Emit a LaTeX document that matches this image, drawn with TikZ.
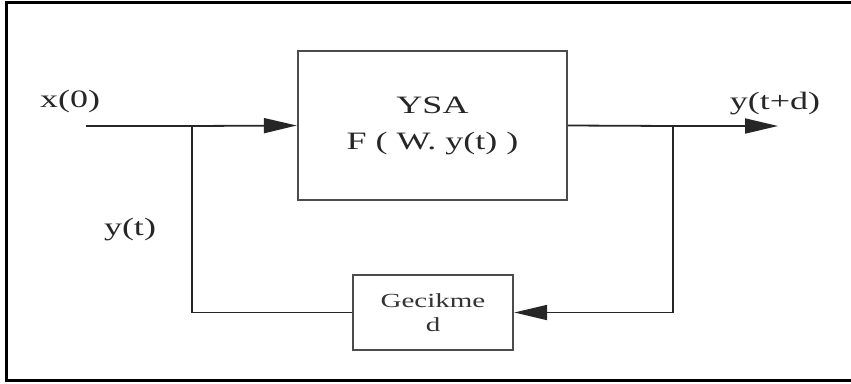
\documentclass[tikz,border=0pt]{standalone}
\usepackage{fontspec}
\usepackage{graphicx}
\setmainfont{Liberation Serif}
\usetikzlibrary{arrows.meta}
\newcommand\wtext[1]{\scalebox{1.44}[1]{#1}}
\begin{document}
\begin{tikzpicture}[x=1pt,y=-1pt,
  line/.style={draw=black!85, line width=1.8pt},
  arr/.style={line, -{Triangle[length=33pt,width=15pt]}},
  blk/.style={draw=black!70, line width=2.4pt, fill=white, inner sep=0pt},
  lbl/.style={font=\fontsize{25}{36}\selectfont, text=black!85, inner sep=0pt},
  small/.style={font=\fontsize{20}{27}\selectfont, text=black!80, inner sep=0pt}]
\useasboundingbox (0,0) rectangle (851,383);
\draw[line width=3pt, draw=black] (6,2.5) rectangle (856,380.5);
\node[blk, minimum width=269pt, minimum height=149pt, align=center, lbl] (main) at (432.5,125.5)
  {\wtext{YSA}\\\wtext{F ( W. y(t) )}};
\node[blk, minimum width=160pt, minimum height=75pt, align=center, small] (delay) at (433,312.5)
  {\scalebox{1.45}[1]{Gecikme}\\[-3pt]\scalebox{1.45}[1]{d}};
\coordinate (in) at (86,126);
\coordinate (split) at (192,126);
\coordinate (fork) at (673,126);
\coordinate (out) at (778,126);
\node[lbl] (lx) at (70,101) {\wtext{x(0)}};
\node[lbl] (ly) at (130,230) {\wtext{y(t)}};
\node[lbl] (lyd) at (775,104) {\wtext{y(t+d)}};
\draw[line] (in) -- (split);
\draw[arr] (split) -- (main.west);
\draw[line] (main.east) -- (fork);
\draw[arr] (fork) -- (out);
\draw[arr] (fork) |- (delay.east);
\draw[line] (delay.west) -| (split);
\end{tikzpicture}
\end{document}
